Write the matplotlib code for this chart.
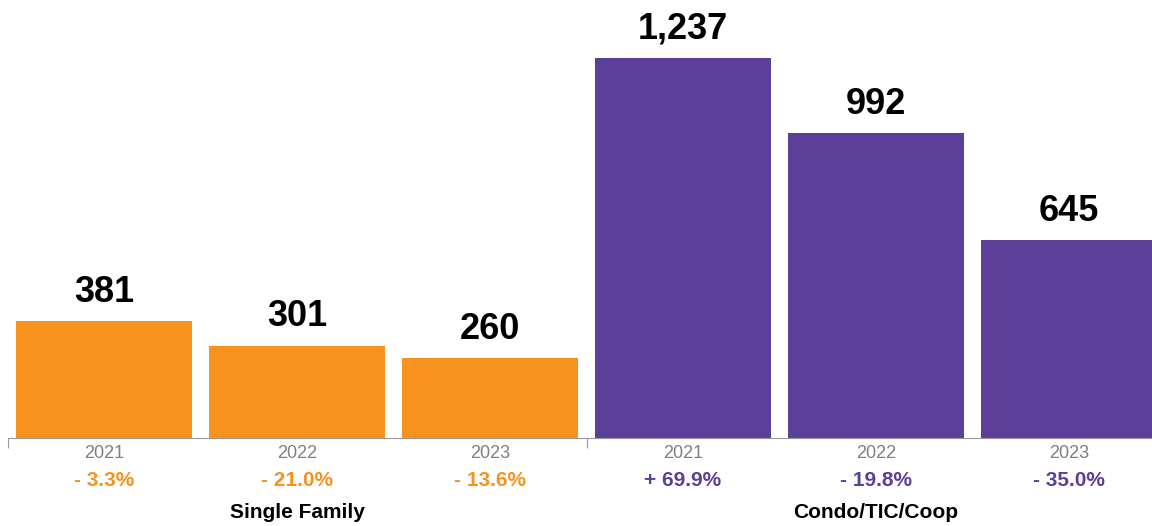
import matplotlib.pyplot as plt
import matplotlib.transforms as mtransforms

# sales counts by property type and year
years = ["2021", "2022", "2023", "2021", "2022", "2023"]
values = [381, 301, 260, 1237, 992, 645]
changes = ["- 3.3%", "- 21.0%", "- 13.6%", "+ 69.9%", "- 19.8%", "- 35.0%"]
groups = ["Single Family", "Condo/TIC/Coop"]

orange = "#F7921E"
purple = "#5B3F99"
colors = [orange] * 3 + [purple] * 3

plt.rcParams["font.family"] = ["Liberation Sans", "DejaVu Sans"]

W, H = 1152, 526
fig = plt.figure(figsize=(W / 100, H / 100), dpi=100)
# axes spans x 7.5 .. 1165.5 px, baseline at y=438 px
ax = fig.add_axes([7.5 / W, (H - 438) / H, 1158 / W, 438 / H])
ax.set_xlim(-0.5, 5.5)
ax.set_ylim(0, 438 / 0.307)

xs = list(range(len(values)))
ax.bar(xs, values, width=0.91, color=colors, zorder=2)

for x, v in zip(xs, values):
    ax.annotate(f"{v:,}", (x, v), xytext=(0, 14), textcoords="offset points",
                ha="center", va="baseline", fontsize=26, fontweight="bold", color="black")

for s in ["top", "right", "left"]:
    ax.spines[s].set_visible(False)
ax.spines["bottom"].set_color("#999999")
ax.set_yticks([])
ax.set_xticks([-0.5, 2.5, 5.5])
ax.set_xticklabels([])
ax.tick_params(axis="x", length=7, color="#999999")

tr = mtransforms.blended_transform_factory(ax.transData, fig.transFigure)
for x, yr, ch, c in zip(xs, years, changes, colors):
    ax.text(x, 1 - 453 / H, yr, transform=tr, ha="center", va="center",
            fontsize=13, color="#808080")
    ax.text(x, 1 - 480 / H, ch, transform=tr, ha="center", va="center",
            fontsize=15, fontweight="bold", color=c)

for gx, g in zip([1, 4], groups):
    ax.text(gx, 1 - 512 / H, g, transform=tr, ha="center", va="center",
            fontsize=15, fontweight="bold", color="black")

fig.savefig("out.png", dpi=100)
